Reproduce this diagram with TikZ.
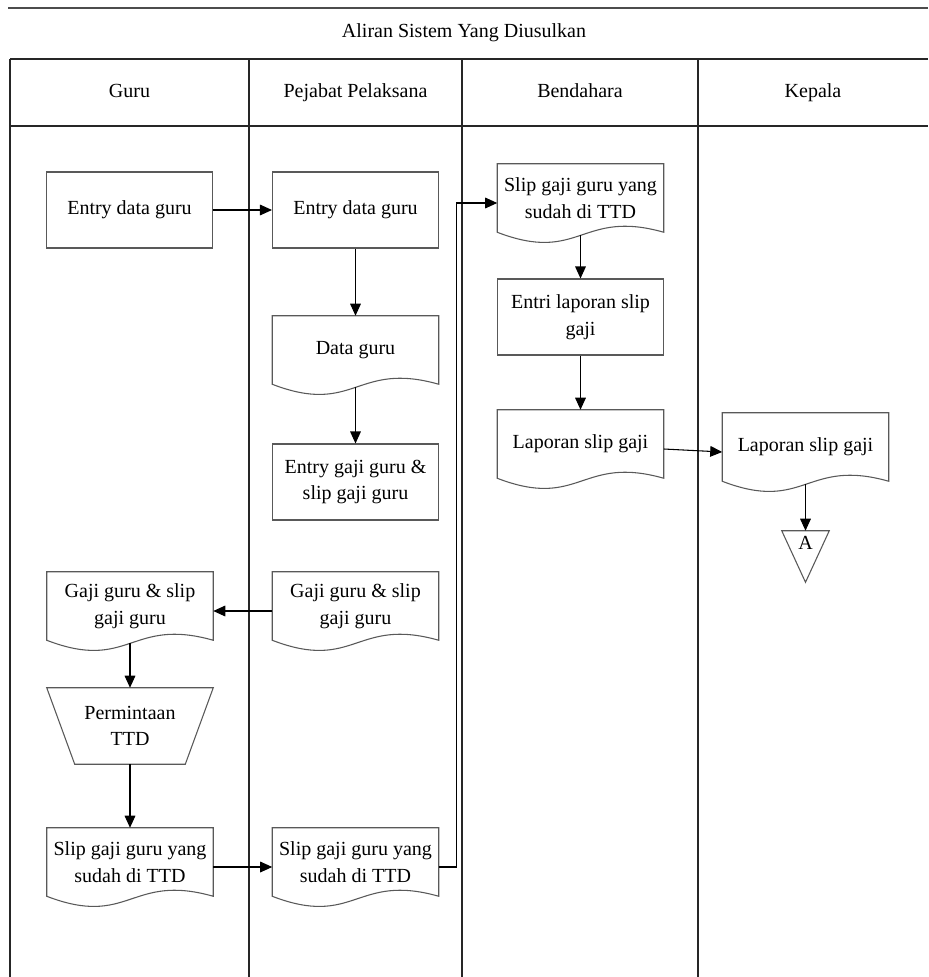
\documentclass[tikz,border=0pt]{standalone}
\usepackage{fontspec}
\setmainfont{Liberation Serif}
\usetikzlibrary{arrows.meta,calc}
\newcommand\docdraw[1]{\draw[outl] (#1.south west) -- (#1.north west) -- (#1.north east) -- (#1.south east) .. controls ($(#1.south east)+(-83,-23.6)$) and ($(#1.south west)+(83,31.9)$) .. (#1.south west) -- cycle;}
\begin{document}
\begin{tikzpicture}[x=0.75pt,y=-0.75pt,
  lane/.style={line width=1.2pt,draw=black!85},
  box/.style={draw=black!65,line width=0.8pt,rectangle,minimum width=124.5pt,minimum height=57pt,align=center,inner sep=1pt},
  docnode/.style={rectangle,minimum width=124.5pt,minimum height=51pt,align=center,inner sep=1pt},
  outl/.style={draw=black!65,line width=0.8pt},
  flow/.style={draw=black,line width=0.8pt,-{Triangle[length=9pt,width=8pt]}},
  lbl/.style={inner sep=0pt,text height=10.5pt,text depth=3.5pt},
  font=\fontsize{15}{20}\selectfont]
\path[use as bounding box,fill=white] (0,0) rectangle (928,977);

% swimlane frame
\draw[line width=1.6pt,draw=black!70] (8,8) -- (928,8);
\node[lbl] (title) at (464,33) {Aliran Sistem Yang Diusulkan};
\draw[lane] (10,59) -- (928,59);
\draw[lane] (10,126) -- (928,126);
\foreach \x in {10,249,462,698} \draw[lane] (\x,59) -- (\x,977);
\node[lbl] (hGuru) at (129.5,93) {Guru};
\node[lbl] (hPejabat) at (355.5,93) {Pejabat Pelaksana};
\node[lbl] (hBend) at (580,93) {Bendahara};
\node[lbl] (hKepala) at (813,93) {Kepala};

% nodes
\node[box] (eg) at (129.5,210) {Entry data guru};
\node[box] (ep) at (355.5,210) {Entry data guru};
\node[docnode] (dg) at (355.5,350) {Data guru};
\node[box] (eggs) at (355.5,482) {Entry gaji guru \&\\slip gaji guru};
\node[docnode] (gp) at (355.5,606) {Gaji guru \& slip\\gaji guru};
\node[docnode] (gg) at (130,606) {Gaji guru \& slip\\gaji guru};
\node[rectangle,minimum width=124.5pt,minimum height=57pt,align=center,inner sep=1pt] (perm) at (130,726) {Permintaan\\TTD};
\node[docnode] (sg) at (130,862) {Slip gaji guru yang\\sudah di TTD};
\node[docnode] (sp) at (355.5,862) {Slip gaji guru yang\\sudah di TTD};
\node[docnode] (sb) at (580.5,198) {Slip gaji guru yang\\sudah di TTD};
\node[box] (el) at (580.5,317) {Entri laporan slip\\gaji};
\node[docnode] (lb) at (580.5,444) {Laporan slip gaji};
\node[docnode] (lk) at (805.5,447) {Laporan slip gaji};
\node[rectangle,minimum width=35.25pt,minimum height=38.25pt,inner sep=0pt] (tri) at (805.5,556.5) {};
\node[lbl] (triA) at ($(tri.north)+(0,14)$) {A};

% outlines
\docdraw{dg}
\docdraw{gp}
\docdraw{gg}
\docdraw{sg}
\docdraw{sp}
\docdraw{sb}
\docdraw{lb}
\docdraw{lk}
\draw[outl] (perm.north west) -- (perm.north east) -- ($(perm.south east)+(-28,0)$) -- ($(perm.south west)+(28,0)$) -- cycle;
\draw[outl] (tri.north west) -- (tri.north east) -- (tri.south) -- cycle;

% connectors
\draw[flow] (eg) -- (ep);
\draw[flow] (ep) -- (dg);
\draw[flow] ($(dg.south)+(0,3)$) -- (eggs);
\draw[flow] ($(gp.west)+(0,5)$) -- ($(gg.east)+(0,5)$);
\draw[flow] ($(gg.south)+(0,3)$) -- (perm.north);
\draw[flow] (perm.south) -- (sg.north);
\draw[flow] ($(sg.east)+(0,5)$) -- ($(sp.west)+(0,5)$);
\draw[flow] ($(sp.east)+(0,5)$) -- ++(18,0) |- ($(sb.west)+(0,5)$);
\draw[flow] ($(sb.south)+(0,3)$) -- (el);
\draw[flow] (el) -- (lb);
\draw[flow] ($(lb.east)+(0,5)$) -- ($(lk.west)+(0,5)$);
\draw[flow] ($(lk.south)+(0,3)$) -- (tri.north);
\end{tikzpicture}
\end{document}
